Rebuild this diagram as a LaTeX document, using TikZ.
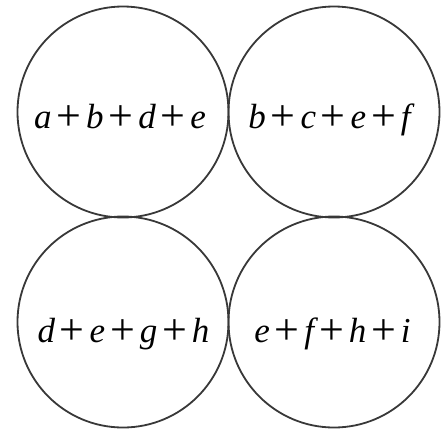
\documentclass[tikz,border=0pt]{standalone}
\usepackage{fontspec}
\setmainfont{Liberation Serif}
\newcommand{\pl}{\hspace{0.14em}\raisebox{-0.06em}{\fontsize{44}{44}\selectfont\upshape +}\hspace{0.14em}}
\begin{document}
\begin{tikzpicture}[x=1pt,y=-1pt,
  ring/.style={draw=black!78,line width=1.8pt,circle,minimum size=211pt,inner sep=0pt},
  expr/.style={font=\fontsize{35}{35}\selectfont\itshape,inner sep=0pt,anchor=base}]
\useasboundingbox[fill=white] (0,0) rectangle (444,432);
\node[ring] (c1) at (123,112) {};
\node[ring] (c2) at (334,112) {};
\node[ring] (c3) at (123,322) {};
\node[ring] (c4) at (334,322) {};
\node[expr] (t1) at (120,128) {a\pl b\pl d\pl e};
\node[expr] (t2) at (329.5,128) {b\pl c\pl e\pl f};
\node[expr] (t3) at (123.5,342) {d\pl e\pl g\pl h};
\node[expr] (t4) at (332.5,342) {e\pl f\pl h\pl i};
\end{tikzpicture}
\end{document}
